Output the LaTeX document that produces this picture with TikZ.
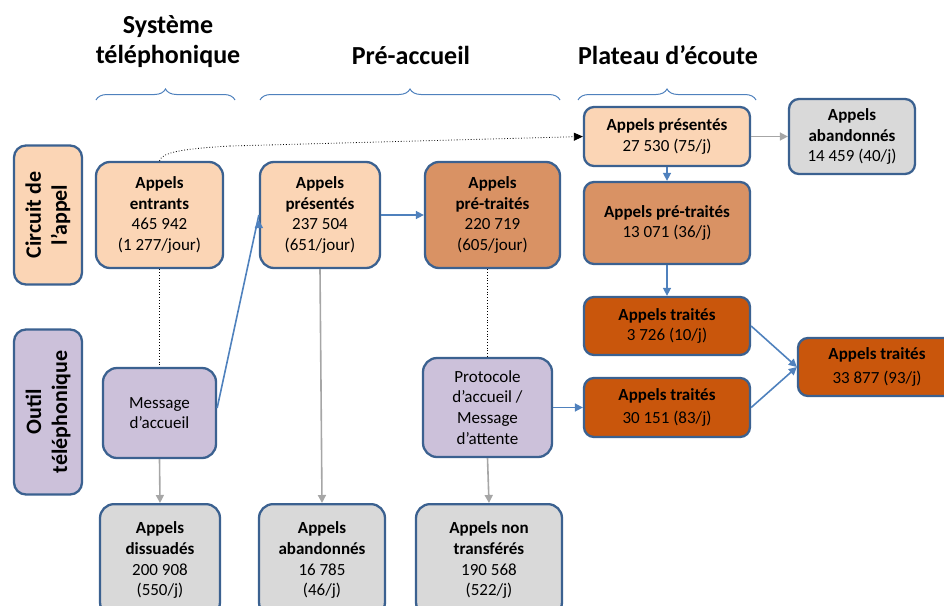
\documentclass[tikz,border=0pt]{standalone}
\usepackage{fontspec}
\setmainfont{Carlito}
\usetikzlibrary{arrows.meta, positioning, decorations.pathreplacing}

\definecolor{peach}{HTML}{FBD5B5}
\definecolor{clay}{HTML}{D99264}
\definecolor{rust}{HTML}{C9560C}
\definecolor{lavender}{HTML}{CCC1DA}
\definecolor{pale}{HTML}{D9D9D9}
\definecolor{edge}{HTML}{3B6190}
\definecolor{flow}{HTML}{4F81BD}
\definecolor{lost}{HTML}{A6A6A6}

\begin{document}
\begin{tikzpicture}[
  x=1pt, y=-1pt,
  box/.style = {draw=edge, line width=2.3pt, rounded corners=14pt, align=center,
                inner sep=2pt, font=\fontsize{17}{20.7}\selectfont},
  smallbox/.style = {box, rounded corners=10pt},
  sidebox/.style = {draw=edge, line width=2.3pt, rounded corners=12pt, align=center,
                    minimum width=68pt, minimum height=139pt, inner sep=0pt},
  sidetext/.style = {rotate=90, align=center, font=\fontsize{22}{26}\selectfont\bfseries},
  header/.style = {align=center, font=\fontsize{26}{30}\selectfont\bfseries},
  span/.style = {draw=flow, line width=1pt, decorate, decoration={brace, amplitude=11pt}},
  flowarrow/.style = {draw=flow, line width=1.6pt, -{Triangle[length=8pt, width=8pt]}},
  lostarrow/.style = {draw=lost, line width=1.6pt, -{Triangle[length=8pt, width=8pt]}},
  link/.style = {draw=black, line width=0.8pt, dotted},
  linkarrow/.style = {link, -{Triangle[length=9pt, width=8pt]}}
]
\useasboundingbox (0,0) rectangle (944,605);

% Column headers
\node[header] (hsys) at (168,42) {Système\\téléphonique};
\node[header] (hpre) at (411,55) {Pré-accueil};
\node[header] (hpla) at (668,55) {Plateau d’écoute};

\draw[span] (96,100) -- (235,100);
\draw[span] (260,100) -- (560,100);
\draw[span] (578,100) -- (756,100);

% Row labels
\node[sidebox, fill=peach] (rcircuit) at (48,215) {};
\node[sidetext] at (rcircuit) {Circuit de\\l’appel};
\node[sidebox, fill=lavender, minimum height=165pt] (routil) at (48,412) {};
\node[sidetext] at (routil) {Outil\\téléphonique};

% Circuit de l'appel
\node[box, fill=peach, minimum width=127pt, minimum height=106pt] (entrants) at (159.5,215)
  {\textbf{Appels}\\\textbf{entrants}\\465 942\\(1 277/jour)};
\node[box, fill=peach, minimum width=120pt, minimum height=106pt] (presentes) at (320,215)
  {\textbf{Appels}\\\textbf{présentés}\\237 504\\(651/jour)};
\node[box, fill=clay, minimum width=135pt, minimum height=106pt] (pretraites) at (492.5,215)
  {\textbf{Appels}\\\textbf{pré-traités}\\220 719\\(605/jour)};

% Outil telephonique
\node[box, fill=lavender, minimum width=113pt, minimum height=90pt] (message) at (159.5,413)
  {Message\\d’accueil};
\node[box, fill=lavender, minimum width=129pt, minimum height=99pt] (protocole) at (487.5,407.5)
  {Protocole\\d’accueil /\\Message\\d’attente};

% Appels perdus
\node[box, fill=pale, minimum width=120pt, minimum height=112pt, anchor=north] (dissuades) at (160,503)
  {\textbf{Appels}\\\textbf{dissuadés}\\200 908\\ (550/j)};
\node[box, fill=pale, minimum width=126pt, minimum height=112pt, anchor=north] (abandonnes) at (322,503)
  {\textbf{Appels}\\\textbf{abandonnés}\\16 785\\ (46/j)};
\node[box, fill=pale, minimum width=146pt, minimum height=112pt, anchor=north] (nontransf) at (489,503)
  {\textbf{Appels non}\\\textbf{transférés}\\190 568\\ (522/j)};

% Plateau d'ecoute
\node[smallbox, fill=peach, minimum width=166pt, minimum height=59pt] (plpres) at (667,136.5)
  {\textbf{Appels présentés}\\27 530 (75/j)};
\node[smallbox, fill=pale, minimum width=126pt, minimum height=75pt] (plaband) at (852,136.5)
  {\textbf{Appels}\\\textbf{abandonnés}\\14 459 (40/j)};
\node[smallbox, fill=clay, minimum width=166pt, minimum height=82pt] (plpretr) at (667,223)
  {\textbf{Appels pré-traités}\\13 071 (36/j)};
\node[smallbox, fill=rust, minimum width=166pt, minimum height=58pt] (pltrA) at (667,326)
  {\textbf{Appels traités}\\3 726 (10/j)};
\node[smallbox, fill=rust, minimum width=166pt, minimum height=59pt] (pltrB) at (667,407.5)
  {\textbf{Appels traités}\\[3pt]30 151 (83/j)};
\node[smallbox, fill=rust, minimum width=158pt, minimum height=58pt] (pltotal) at (877,367)
  {\textbf{Appels traités}\\[3pt]33 877 (93/j)};

% Connecteurs
\coordinate (bend) at (230,146);
\draw[link] (entrants.north) .. controls (162,153) and (178,149) .. (bend);
\draw[linkarrow] (bend) -- (plpres.west);
\draw[link] (entrants.south) -- (message.north);
\draw[link] (pretraites.south -| protocole.north) -- (protocole.north);

\draw[flowarrow] (message.east) ++(0,-5) -- (presentes.west) ++(0,5);
\draw[flowarrow] (presentes.east) -- (pretraites.west);
\draw[flowarrow] (protocole.east) -- (pltrB.west);
\draw[flowarrow] (plpres.south) -- (plpretr.north);
\draw[flowarrow] (plpretr.south) -- (pltrA.north);
\draw[flowarrow] (pltrA.east) -- (pltotal.west);
\draw[flowarrow] (pltrB.east) -- (pltotal.west);

\draw[lostarrow] (message.south) -- (dissuades.north);
\draw[lostarrow] (presentes.south) -- (abandonnes.north);
\draw[lostarrow] (protocole.south) -- (nontransf.north);
\draw[lostarrow] (plpres.east) -- (plaband.west);

\end{tikzpicture}
\end{document}
